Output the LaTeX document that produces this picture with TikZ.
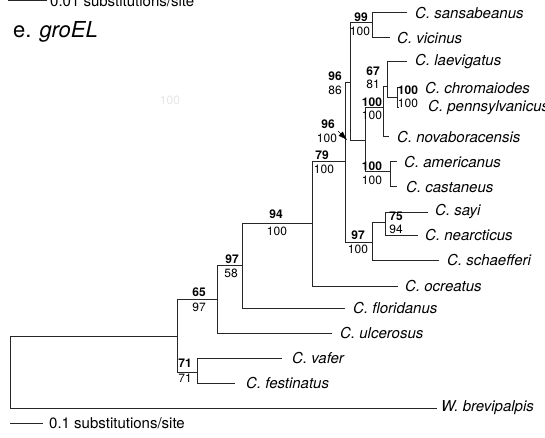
\documentclass[tikz,border=0pt]{standalone}
\usepackage{fontspec}
\setmainfont{TeX Gyre Heros}
\usetikzlibrary{arrows.meta, positioning}

\begin{document}
\begin{tikzpicture}[
  x=1pt, y=-1pt,
  node distance=0pt and 7pt,
  branch/.style={draw=black!85, line width=1pt},
  taxon/.style={inner sep=0pt, font=\fontsize{15}{18}\selectfont\itshape},
  bsbold/.style={inner sep=0pt, font=\fontsize{12}{14}\selectfont\bfseries},
  bsplain/.style={inner sep=0pt, font=\fontsize{12}{14}\selectfont},
  scaletext/.style={inner sep=0pt, anchor=west, font=\fontsize{15}{18}\selectfont},
  ptr/.style={-{Latex[length=9pt, width=6pt]}, black},
]
  \useasboundingbox (0,0) rectangle (545,438);

  % internal nodes
  \coordinate (root)  at (10,372);
  \coordinate (ingr)  at (177,336);
  \coordinate (c65)   at (217,299);
  \coordinate (c71)   at (197,372);
  \coordinate (c97a)  at (242,265);
  \coordinate (c94)   at (312,223);
  \coordinate (c79)   at (345,162);
  \coordinate (c96a)  at (350,83);
  \coordinate (c99)   at (372,23);
  \coordinate (c96b)  at (365,141);
  \coordinate (c100a) at (383,108);
  \coordinate (c67)   at (387,87);
  \coordinate (c100b) at (397,98);
  \coordinate (c100c) at (390,172);
  \coordinate (c97b)  at (372,242);
  \coordinate (c75)   at (385,222);

  % tips
  \coordinate (tsans) at (407,13);
  \coordinate (tvici) at (390,38);
  \coordinate (tlaev) at (407,62);
  \coordinate (tchro) at (399,88);
  \coordinate (tpenn) at (399,108);
  \coordinate (tnova) at (389,137);
  \coordinate (tamer) at (397,162);
  \coordinate (tcast) at (397,187);
  \coordinate (tsayi) at (428,212);
  \coordinate (tnear) at (418,235);
  \coordinate (tscha) at (439,260);
  \coordinate (tocre) at (398,286);
  \coordinate (tflor) at (345,308);
  \coordinate (tulce) at (332,333);
  \coordinate (tvafe) at (282,358);
  \coordinate (tfest) at (235,383);
  \coordinate (twbre) at (437,408);

  \node[taxon, right=8pt of tsans] (sans) {C. sansabeanus};
  \node[taxon, right=of tvici] (vici) {C. vicinus};
  \node[taxon, right=8pt of tlaev] (laev) {C. laevigatus};
  \node[taxon, right=26pt of tchro] (chro) {C. chromaiodes};
  \node[taxon, right=29pt of tpenn] (penn) {C. pennsylvanicus};
  \node[taxon, right=8pt of tnova] (nova) {C. novaboracensis};
  \node[taxon, right=of tamer] (amer) {C. americanus};
  \node[taxon, right=9pt of tcast] (cast) {C. castaneus};
  \node[taxon, right=of tsayi] (sayi) {C. sayi};
  \node[taxon, right=of tnear] (near) {C. nearcticus};
  \node[taxon, right=8pt of tscha] (scha) {C. schaefferi};
  \node[taxon, right=of tocre] (ocre) {C. ocreatus};
  \node[taxon, right=8pt of tflor] (flor) {C. floridanus};
  \node[taxon, right=8pt of tulce] (ulce) {C. ulcerosus};
  \node[taxon, right=10pt of tvafe] (vafe) {C. vafer};
  \node[taxon, right=11pt of tfest] (fest) {C. festinatus};
  \node[taxon, right=4pt of twbre] (wbre) {W. brevipalpis};

  % branches
  \draw[branch] (root) |- (ingr);
  \draw[branch] (root) |- (twbre);
  \draw[branch] (ingr) |- (c65);
  \draw[branch] (ingr) |- (c71);
  \draw[branch] (c65) |- (c97a);
  \draw[branch] (c65) |- (tulce);
  \draw[branch] (c71) |- (tvafe);
  \draw[branch] (c71) |- (tfest);
  \draw[branch] (c97a) |- (c94);
  \draw[branch] (c97a) |- (tflor);
  \draw[branch] (c94) |- (c79);
  \draw[branch] (c94) |- (tocre);
  \draw[branch] (c79) |- (c96a);
  \draw[branch] (c79) |- (c97b);
  \draw[branch] (c96a) |- (c99);
  \draw[branch] (c96a) |- (c96b);
  \draw[branch] (c99) |- (tsans);
  \draw[branch] (c99) |- (tvici);
  \draw[branch] (c96b) |- (c100a);
  \draw[branch] (c96b) |- (c100c);
  \draw[branch] (c100a) |- (c67);
  \draw[branch] (c100a) |- (tnova);
  \draw[branch] (c67) |- (tlaev);
  \draw[branch] (c67) |- (c100b);
  \draw[branch] (c100b) |- (tchro);
  \draw[branch] (c100b) |- (tpenn);
  \draw[branch] (c100c) |- (tamer);
  \draw[branch] (c100c) |- (tcast);
  \draw[branch] (c97b) |- (c75);
  \draw[branch] (c97b) |- (tscha);
  \draw[branch] (c75) |- (tsayi);
  \draw[branch] (c75) |- (tnear);

  % bootstrap / support values
  \node[bsbold]  (b65)   at (199,292) {65};
  \node[bsplain] (p65)   at (199,307) {97};
  \node[bsbold]  (b97a)  at (232,259) {97};
  \node[bsplain] (p97a)  at (231,273) {58};
  \node[bsbold]  (b94)   at (276,214) {94};
  \node[bsplain] (p94)   at (277,231) {100};
  \node[bsbold]  (b79)   at (322,155) {79};
  \node[bsplain] (p79)   at (324,169) {100};
  \node[bsbold]  (b96a)  at (335,76)  {96};
  \node[bsplain] (p96a)  at (335,90)  {86};
  \node[bsbold]  (b99)   at (361,17)  {99};
  \node[bsplain] (p99)   at (360,31)  {100};
  \node[bsbold]  (b67)   at (373,71)  {67};
  \node[bsplain] (p67)   at (373,84)  {81};
  \node[bsbold]  (b100b) at (408,90)  {100};
  \node[bsplain] (p100b) at (408,103) {100};
  \node[bsbold]  (b100a) at (372,102) {100};
  \node[bsplain] (p100a) at (372,115) {100};
  \node[bsbold]  (b96b)  at (328,124) {96};
  \node[bsplain] (p96b)  at (327,138) {100};
  \node[bsbold]  (b100c) at (372,166) {100};
  \node[bsplain] (p100c) at (372,180) {100};
  \node[bsbold]  (b97b)  at (358,235) {97};
  \node[bsplain] (p97b)  at (358,249) {100};
  \node[bsbold]  (b75)   at (396,216) {75};
  \node[bsplain] (p75)   at (396,229) {94};
  \node[bsbold]  (b71)   at (185,363) {71};
  \node[bsplain] (p71)   at (185,378) {71};
  \node[bsplain, text=black!10] (ghost) at (170,100) {100};

  % pointer to the short 96/100 branch
  \coordinate (ptail) at (338,131);
  \coordinate (ptip)  at (347,140);
  \draw[ptr] (ptail) -- (ptip);

  % title and scale bars
  \node[inner sep=0pt, anchor=base west, font=\fontsize{22}{26}\selectfont] (title) at (13,38) {e. \textit{groEL}};
  \coordinate (sbtopa) at (8,1);
  \coordinate (sbtopb) at (47,1);
  \draw[branch] (sbtopa) -- (sbtopb);
  \node[scaletext, right=3pt of sbtopb] (sbtoplbl) {0.01 substitutions/site};
  \coordinate (sbbota) at (10,423);
  \coordinate (sbbotb) at (43,423);
  \draw[branch] (sbbota) -- (sbbotb);
  \node[scaletext, right=6pt of sbbotb] (sbbotlbl) {0.1 substitutions/site};
\end{tikzpicture}
\end{document}
